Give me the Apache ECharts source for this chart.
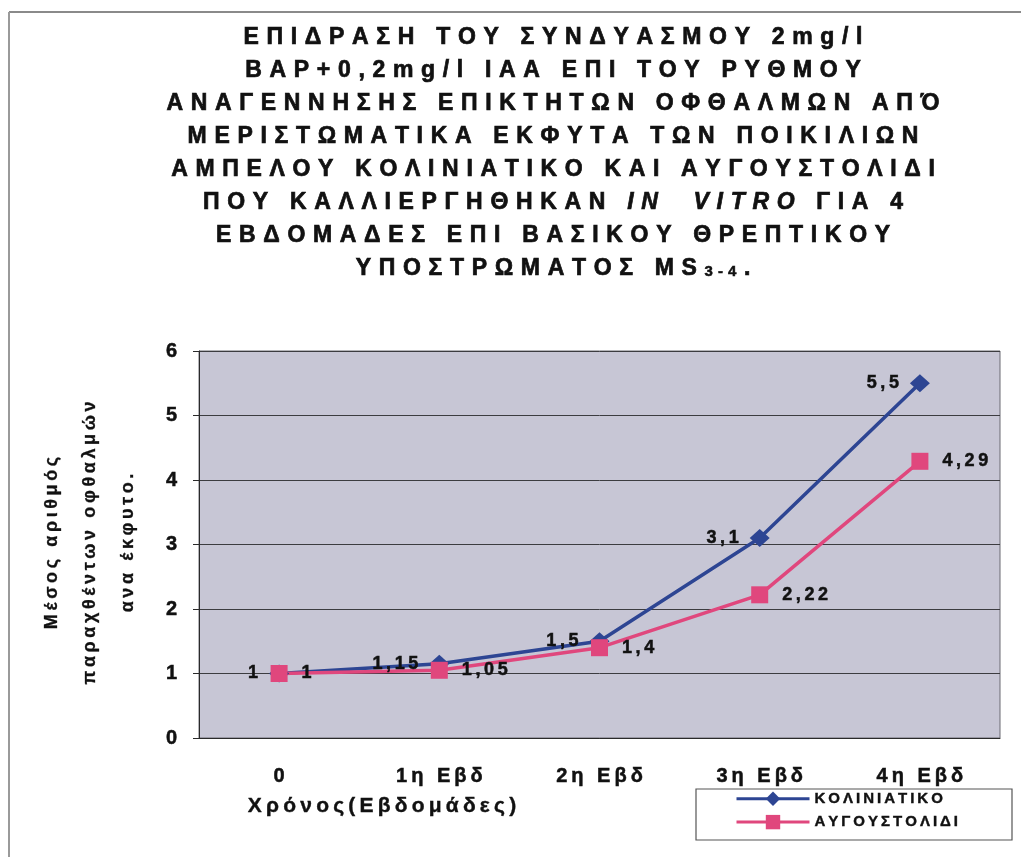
<!DOCTYPE html>
<html>
<head>
<meta charset="utf-8">
<script src="https://cdn.jsdelivr.net/npm/echarts@6/dist/echarts.min.js"></script>
<style>
  html, body { margin: 0; padding: 0; background: #ffffff; }
  #chart { width: 1021px; height: 857px; }
</style>
</head>
<body>
<div id="chart"></div>
<script>
// ---- data ----
const categories = ['0', '1η Εβδ', '2η Εβδ', '3η Εβδ', '4η Εβδ'];
const koliniatiko = [1, 1.15, 1.5, 3.1, 5.5];
const avgoustolidi = [1, 1.05, 1.4, 2.22, 4.29];
const seriesNames = ['ΚΟΛΙΝΙΑΤΙΚΟ', 'ΑΥΓΟΥΣΤΟΛΙΔΙ'];
const yMin = 0, yMax = 6, yStep = 1;

const titleLines = [
  ['ΕΠΙΔΡΑΣΗ ΤΟΥ ΣΥΝΔΥΑΣΜΟΥ 2mg/l'],
  ['BAP+0,2mg/l IAA ΕΠΙ ΤΟΥ ΡΥΘΜΟΥ'],
  ['ΑΝΑΓΕΝΝΗΣΗΣ ΕΠΙΚΤΗΤΩΝ ΟΦΘΑΛΜΩΝ ΑΠΌ'],
  ['ΜΕΡΙΣΤΩΜΑΤΙΚΑ ΕΚΦΥΤΑ ΤΩΝ ΠΟΙΚΙΛΙΩΝ'],
  ['ΑΜΠΕΛΟΥ ΚΟΛΙΝΙΑΤΙΚΟ ΚΑΙ ΑΥΓΟΥΣΤΟΛΙΔΙ'],
  ['ΠΟΥ ΚΑΛΛΙΕΡΓΗΘΗΚΑΝ ', ['i', 'IN  VITRO'], ' ΓΙΑ 4'],
  ['ΕΒΔΟΜΑΔΕΣ ΕΠΙ ΒΑΣΙΚΟΥ ΘΡΕΠΤΙΚΟΥ'],
  ['ΥΠΟΣΤΡΩΜΑΤΟΣ MS', ['s', '3-4'], '.']
];
const yAxisTitle = ['Μέσος αριθμός', 'παραχθέντων οφθαλμών', 'ανα έκφυτο.'];
const xAxisTitle = 'Χρόνος(Εβδομάδες)';

// ---- helpers ----
const FONT = '"Liberation Sans", Arial, sans-serif';
const THIN = '\u2009';
const WIDE = '\u2004';
const INK = '#111111';
// open up the tracking of a string by putting narrow spaces between its characters
function track(s, sp) {
  return Array.from(s).join(sp === undefined ? THIN : sp);
}
function buildTitle() {
  const sp = WIDE;
  return titleLines.map(parts => parts.map(p => {
    if (Array.isArray(p)) return '{' + p[0] + '|' + track(p[1], sp) + '}';
    return track(p, sp);
  }).join(sp)).join('\n');
}
const decimalComma = v => String(v).replace('.', ',');
// a thin outline in the ink colour gives the heavy print look
const heavy = w => ({ textBorderColor: INK, textBorderWidth: w });

const BLUE = '#2d4593';
const PINK = '#e0477d';

const chart = echarts.init(document.getElementById('chart'), null, { renderer: 'canvas' });

chart.setOption({
  backgroundColor: '#ffffff',
  animation: false,
  title: {
    text: buildTitle(),
    left: 553,
    top: 21,
    textAlign: 'center',
    padding: 0,
    textStyle: Object.assign({
      fontFamily: FONT,
      fontWeight: 'bold',
      fontSize: 23,
      lineHeight: 33,
      color: INK,
      rich: {
        i: Object.assign({ fontFamily: FONT, fontWeight: 'bold', fontStyle: 'italic', fontSize: 23, lineHeight: 33, color: INK }, heavy(0.7)),
        s: Object.assign({ fontFamily: FONT, fontWeight: 'bold', fontSize: 15, lineHeight: 33, color: INK, padding: [7, 0, 0, 0] }, heavy(0.5))
      }
    }, heavy(0.7))
  },
  grid: {
    left: 199,
    right: 21,
    top: 351,
    bottom: 119,
    show: true,
    backgroundColor: '#c7c6d5',
    borderColor: '#6a6a72',
    borderWidth: 1
  },
  legend: {
    orient: 'vertical',
    left: 735,
    top: 791,
    padding: 0,
    itemWidth: 73,
    itemHeight: 18,
    itemGap: 8,
    data: seriesNames,
    lineStyle: { width: 3 },
    formatter: name => track(name, THIN),
    textStyle: Object.assign({ fontFamily: FONT, fontWeight: 'bold', fontSize: 15, color: INK }, heavy(0.4))
  },
  xAxis: {
    type: 'category',
    data: categories,
    boundaryGap: true,
    axisLine: { show: true, lineStyle: { color: '#2a2a2a', width: 1 } },
    axisTick: { show: false },
    axisLabel: Object.assign({
      margin: 28,
      fontFamily: FONT,
      fontWeight: 'bold',
      fontSize: 20,
      color: INK,
      formatter: v => track(v, THIN)
    }, heavy(0.5))
  },
  yAxis: {
    type: 'value',
    min: yMin,
    max: yMax,
    interval: yStep,
    axisLine: { show: true, lineStyle: { color: '#2a2a2a', width: 1 } },
    axisTick: { show: true, length: 6, lineStyle: { color: '#2a2a2a' } },
    splitLine: { show: true, lineStyle: { color: '#3c3c40', width: 1 } },
    axisLabel: Object.assign({
      margin: 22,
      fontFamily: FONT,
      fontWeight: 'bold',
      fontSize: 20,
      color: INK
    }, heavy(0.5))
  },
  series: [
    {
      name: seriesNames[0],
      type: 'line',
      data: koliniatiko,
      symbol: 'diamond',
      symbolSize: [20, 18],
      lineStyle: { color: BLUE, width: 3.5 },
      itemStyle: { color: BLUE },
      label: Object.assign({
        show: true,
        position: 'left',
        distance: 11,
        fontFamily: FONT,
        fontWeight: 'bold',
        fontSize: 18,
        color: INK,
        formatter: p => track(decimalComma(p.value), THIN)
      }, heavy(0.5))
    },
    {
      name: seriesNames[1],
      type: 'line',
      data: avgoustolidi,
      symbol: 'rect',
      symbolSize: 17,
      lineStyle: { color: PINK, width: 3.5 },
      itemStyle: { color: PINK },
      label: Object.assign({
        show: true,
        position: 'right',
        distance: 14,
        fontFamily: FONT,
        fontWeight: 'bold',
        fontSize: 18,
        color: INK,
        formatter: p => track(decimalComma(p.value), THIN)
      }, heavy(0.5))
    }
  ],
  graphic: [
    // page frame
    { type: 'line', shape: { x1: 9, y1: 12, x2: 1021, y2: 12 }, style: { stroke: '#8a8a8a', lineWidth: 2 }, silent: true },
    { type: 'line', shape: { x1: 9, y1: 12, x2: 9, y2: 857 }, style: { stroke: '#9a9a9a', lineWidth: 2 }, silent: true },
    // legend frame
    { type: 'rect', shape: { x: 696, y: 789, width: 316, height: 51 }, style: { fill: '#ffffff', stroke: '#555555', lineWidth: 1.2 }, z: -1, silent: true },
    // y axis title
    {
      type: 'text',
      x: 90,
      y: 543,
      rotation: Math.PI / 2,
      silent: true,
      style: {
        text: yAxisTitle.map(s => track(s, THIN)).join('\n'),
        align: 'center',
        verticalAlign: 'middle',
        fontFamily: FONT,
        fontWeight: 'bold',
        fontSize: 18,
        lineHeight: 38,
        fill: INK,
        stroke: INK,
        lineWidth: 0.3
      }
    },
    // x axis title
    {
      type: 'text',
      x: 382,
      y: 806,
      silent: true,
      style: {
        text: track(xAxisTitle, THIN),
        align: 'center',
        verticalAlign: 'middle',
        fontFamily: FONT,
        fontWeight: 'bold',
        fontSize: 21,
        fill: INK,
        stroke: INK,
        lineWidth: 0.4
      }
    }
  ]
});
</script>
</body>
</html>
